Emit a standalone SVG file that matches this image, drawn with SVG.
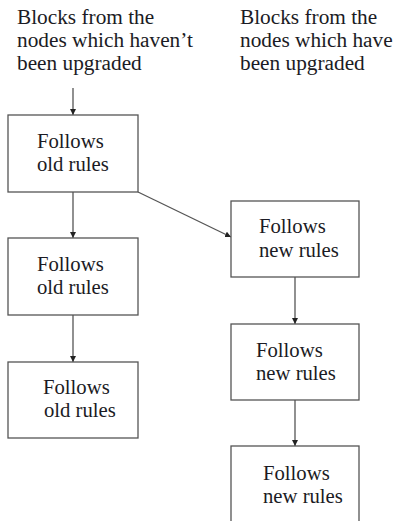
<svg xmlns="http://www.w3.org/2000/svg" width="393" height="521" viewBox="0 0 393 521">
<style>
text{font-family:'Liberation Serif','DejaVu Serif',serif;fill:#1b1b24}
.h{font-size:21.3px}
.b{font-size:20.7px}
rect{fill:#fff;stroke:#555;stroke-width:1.3}
.c line{stroke:#555;stroke-width:1.3;marker-end:url(#ah)}
</style>
<defs>
<marker id="ah" viewBox="0 0 8 8" refX="8" refY="4" markerWidth="6" markerHeight="6" markerUnits="userSpaceOnUse" orient="auto">
<path d="M0,0 L8,4 L0,8 z" fill="#222"/>
</marker>
</defs>
<rect x="0" y="0" width="393" height="521" style="stroke:none"/>
<g id="header-old">
<text class="h" x="17" y="24">Blocks from the</text>
<text class="h" x="17" y="47">nodes which haven’t</text>
<text class="h" x="17" y="70">been upgraded</text>
</g>
<g id="header-new">
<text class="h" x="240" y="24">Blocks from the</text>
<text class="h" x="240" y="47">nodes which have</text>
<text class="h" x="240" y="70">been upgraded</text>
</g>
<g class="c" id="connectors">
<line x1="73" y1="88" x2="73" y2="115"/>
<line x1="73" y1="192" x2="73" y2="238"/>
<line x1="73" y1="315" x2="73" y2="362"/>
<line x1="138" y1="192" x2="231" y2="237"/>
<line x1="295" y1="277" x2="295" y2="324"/>
<line x1="295" y1="400" x2="295" y2="446"/>
</g>
<g id="old1">
<rect x="8" y="115" width="130" height="77"/>
<text class="b" x="37" y="148">Follows</text>
<text class="b" x="37" y="171">old rules</text>
</g>
<g id="old2">
<rect x="8" y="238" width="130" height="77"/>
<text class="b" x="37" y="271">Follows</text>
<text class="b" x="37" y="294">old rules</text>
</g>
<g id="old3">
<rect x="8" y="362" width="130" height="76"/>
<text class="b" x="43" y="394">Follows</text>
<text class="b" x="44" y="417">old rules</text>
</g>
<g id="new1">
<rect x="231" y="201" width="128" height="76"/>
<text class="b" x="259" y="233">Follows</text>
<text class="b" x="259" y="257">new rules</text>
</g>
<g id="new2">
<rect x="231" y="324" width="128" height="76"/>
<text class="b" x="256" y="357">Follows</text>
<text class="b" x="256" y="380">new rules</text>
</g>
<g id="new3">
<rect x="231" y="446" width="128" height="90"/>
<text class="b" x="263" y="480">Follows</text>
<text class="b" x="263" y="503">new rules</text>
</g>
</svg>
